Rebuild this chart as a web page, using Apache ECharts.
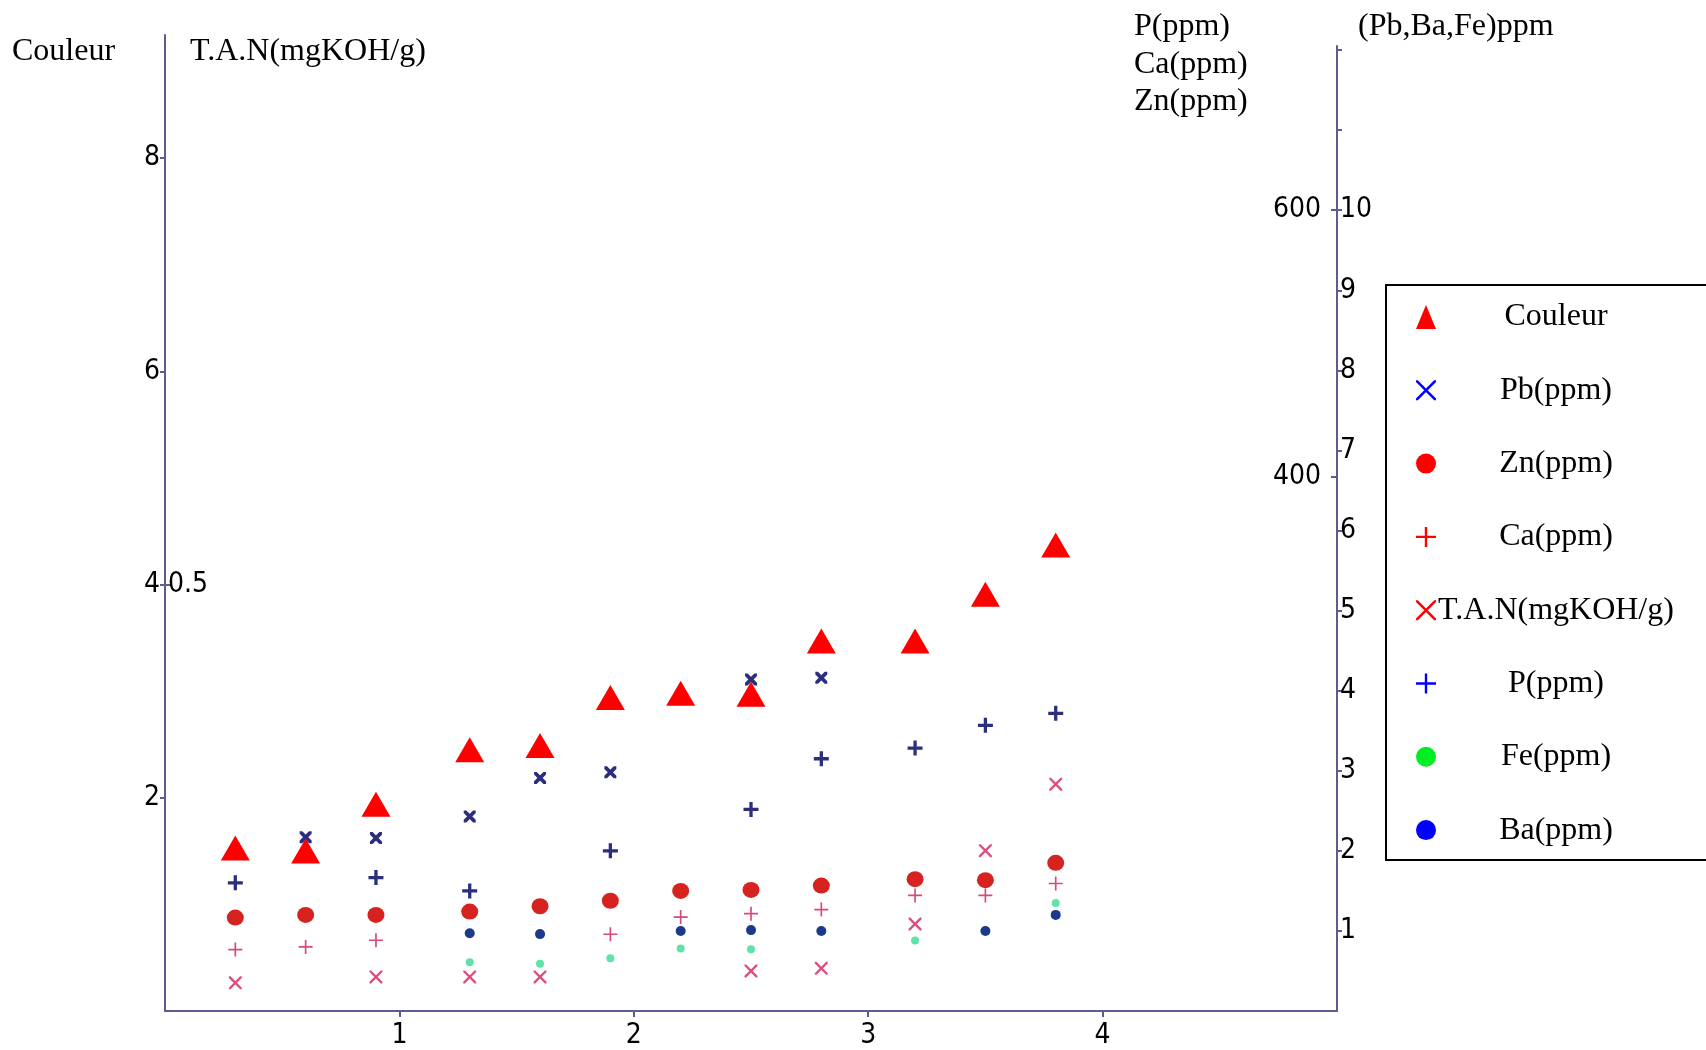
<!DOCTYPE html>
<html>
<head>
<meta charset="utf-8">
<title>Couleur, T.A.N et métaux</title>
<script src="https://cdn.jsdelivr.net/npm/echarts@6/dist/echarts.min.js"></script>
<style>
  html, body { margin: 0; padding: 0; background: #ffffff; }
  #chart { width: 1706px; height: 1050px; }
</style>
</head>
<body>
<div id="chart"></div>
<script>
// Sample positions along the horizontal axis
const xs = [0.3, 0.6, 0.9, 1.3, 1.6, 1.9, 2.2, 2.5, 2.8, 3.2, 3.5, 3.8];

// Couleur (left scale) and T.A.N in mgKOH/g (left inner scale)
const couleur = [1.53, 1.50, 1.94, 2.45, 2.49, 2.94, 2.98, 2.97, 3.47, 3.47, 3.91, 4.37];
const tan = [0.033, null, 0.040, 0.040, 0.040, null, null, 0.047, 0.050, 0.102, 0.188, 0.266];

// P, Ca, Zn in ppm (right inner scale, 400 / 600)
const pPpm = [96, null, 100, 90, null, 120, null, 151, 189, 197, 214, 223];
const caPpm = [46, 48, 53, null, null, 57.5, 70.4, 72.9, 76, 86.6, 86.6, 95.5];
const znPpm = [70, 72, 72, 74.5, 78.5, 82.6, 90, 90.7, 94, 98.8, 98, 111];

// Pb, Ba, Fe in ppm (right outer scale, 1..10)
const pbPpm = [null, 2.17, 2.16, 2.43, 2.91, 2.98, null, 4.14, 4.16, null, null, null];
const baPpm = [null, null, null, 0.97, 0.96, null, 1.0, 1.01, 1.0, null, 1.0, 1.2];
const fePpm = [null, null, null, 0.61, 0.59, 0.66, 0.78, 0.77, null, 0.88, null, 1.35];

// Tick labels
const xTicks = [1, 2, 3, 4];
const couleurTicks = [2, 4, 6, 8];
const tanTicks = [0.5];
const pTicks = [400, 600];
const pbLabelTicks = [1, 2, 3, 4, 5, 6, 7, 8, 9, 10];
const pbTickMarks = [1, 2, 3, 4, 5, 6, 7, 8, 9, 10, 11, 12];

function pts(vals) {
  return xs.map((x, i) => (vals[i] == null ? null : [x, vals[i]])).filter(Boolean);
}

const X_THICK = 'path://M0,0L2.2,0L10,7.8L10,10L7.8,10L0,2.2Z M7.8,0L10,0L10,2.2L2.2,10L0,10L0,7.8Z';
const X_THIN = 'path://M0,0L1.3,0L10,8.7L10,10L8.7,10L0,1.3Z M8.7,0L10,0L10,1.3L1.3,10L0,10L0,8.7Z';
const X_HAIR = 'path://M0,0L0.9,0L10,9.1L10,10L9.1,10L0,0.9Z M9.1,0L10,0L10,0.9L0.9,10L0,10L0,9.1Z';
const PLUS_THICK = 'path://M3.9,0H6.1V3.9H10V6.1H6.1V10H3.9V6.1H0V3.9H3.9Z';
const PLUS_THIN = 'path://M4.4,0H5.6V4.4H10V5.6H5.6V10H4.4V5.6H0V4.4H4.4Z';

const serif = "'Liberation Serif', 'Times New Roman', serif";
const narrow = "'Liberation Sans Narrow', 'DejaVu Sans Condensed', sans-serif";
const axisColor = '#5c5c90';

const headStyle = { fontFamily: serif, fontSize: 32, fontWeight: 'normal', color: '#000', lineHeight: 34 };
const tickLabel = { fontFamily: narrow, fontSize: 28, color: '#000' };

// Vertical scales: both panels share the bottom edge at y = 1011
const LEFT_MAX = 9.155;
const PB_MAX = 12.05;

const chart = echarts.init(document.getElementById('chart'), null, { renderer: 'canvas' });

chart.setOption({
  backgroundColor: '#ffffff',
  animation: false,
  title: [
    { text: 'Couleur', left: 12, top: 35, padding: 0, textStyle: headStyle },
    { text: 'T.A.N(mgKOH/g)', left: 190, top: 35, padding: 0, textStyle: headStyle },
    { text: 'P(ppm)\nCa(ppm)\nZn(ppm)', left: 1134, top: 8, padding: 0,
      textStyle: Object.assign({}, headStyle, { lineHeight: 37.5 }) },
    { text: '(Pb,Ba,Fe)ppm', left: 1358, top: 10, padding: 0, textStyle: headStyle }
  ],
  grid: [
    { left: 165, right: 369, top: 35, bottom: 39, containLabel: false },
    { left: 165, right: 369, top: 46, bottom: 39, containLabel: false }
  ],
  xAxis: [
    {
      type: 'value', gridIndex: 0, min: 0, max: 5, interval: 1,
      axisLine: { show: true, onZero: false, lineStyle: { color: axisColor, width: 2 } },
      axisTick: { show: true, length: 6, customValues: xTicks, lineStyle: { color: axisColor, width: 2 } },
      axisLabel: { customValues: xTicks, margin: 11, textStyle: tickLabel },
      splitLine: { show: false }
    },
    {
      type: 'value', gridIndex: 1, min: 0, max: 5, interval: 1, show: false,
      axisLine: { onZero: false },
      splitLine: { show: false }
    }
  ],
  yAxis: [
    { // Couleur
      type: 'value', gridIndex: 0, position: 'left', min: 0, max: LEFT_MAX,
      axisLine: { show: true, onZero: false, lineStyle: { color: axisColor, width: 2 } },
      axisTick: { show: true, length: 5, customValues: couleurTicks, lineStyle: { color: axisColor, width: 2 } },
      axisLabel: { customValues: couleurTicks, margin: 5, textStyle: tickLabel },
      splitLine: { show: false }
    },
    { // T.A.N
      type: 'value', gridIndex: 0, position: 'left', min: 0, max: LEFT_MAX / 8,
      axisLine: { show: false, onZero: false },
      axisTick: { show: true, inside: true, length: 5, customValues: tanTicks, lineStyle: { color: axisColor, width: 2 } },
      axisLabel: { inside: true, customValues: tanTicks, margin: 3, formatter: v => v.toFixed(1), textStyle: tickLabel },
      splitLine: { show: false }
    },
    { // Pb, Ba, Fe
      type: 'value', gridIndex: 1, position: 'right', min: 0, max: PB_MAX,
      axisLine: { show: true, onZero: false, lineStyle: { color: axisColor, width: 2 } },
      axisTick: { show: true, length: 5, customValues: pbTickMarks, lineStyle: { color: axisColor, width: 2 } },
      axisLabel: { customValues: pbLabelTicks, margin: 3, textStyle: tickLabel },
      splitLine: { show: false }
    },
    { // P, Ca, Zn
      type: 'value', gridIndex: 1, position: 'right', min: 0, max: PB_MAX * 60,
      axisLine: { show: false, onZero: false },
      axisTick: { show: true, inside: true, length: 6, customValues: pTicks, lineStyle: { color: axisColor, width: 2 } },
      axisLabel: { inside: true, customValues: pTicks, margin: 16, textStyle: tickLabel },
      splitLine: { show: false }
    }
  ],
  legend: {
    orient: 'vertical', left: 1386, top: 285,
    itemWidth: 20, itemHeight: 24, itemGap: 41.3,
    padding: [16, 60, 14, 30],
    borderColor: '#000', borderWidth: 2, backgroundColor: '#ffffff',
    selectedMode: false,
    formatter: n => '{c|' + n + '}',
    textStyle: {
      fontFamily: serif, fontSize: 32, color: '#000',
      rich: { c: { width: 230, align: 'center', fontFamily: serif, fontSize: 32, lineHeight: 34, color: '#000' } }
    },
    data: [
      { name: 'Couleur', icon: 'triangle', itemStyle: { color: '#ff0000' } },
      { name: 'Pb(ppm)', icon: X_HAIR, itemStyle: { color: '#0000ff' } },
      { name: 'Zn(ppm)', icon: 'circle', itemStyle: { color: '#ff0000' } },
      { name: 'Ca(ppm)', icon: PLUS_THIN, itemStyle: { color: '#ff0000' } },
      { name: 'T.A.N(mgKOH/g)', icon: X_HAIR, itemStyle: { color: '#ff0000' } },
      { name: 'P(ppm)', icon: PLUS_THIN, itemStyle: { color: '#0000ff' } },
      { name: 'Fe(ppm)', icon: 'circle', itemStyle: { color: '#00ee22' } },
      { name: 'Ba(ppm)', icon: 'circle', itemStyle: { color: '#0000ff' } }
    ]
  },
  series: [
    { name: 'Couleur', type: 'scatter', xAxisIndex: 0, yAxisIndex: 0, symbol: 'triangle', symbolSize: [29, 25],
      itemStyle: { color: '#ff0000', opacity: 1 }, data: pts(couleur), silent: true, z: 5 },
    { name: 'Pb(ppm)', type: 'scatter', xAxisIndex: 1, yAxisIndex: 2, symbol: X_THICK, symbolSize: 12,
      itemStyle: { color: '#2b2e7c', opacity: 1 }, data: pts(pbPpm), silent: true },
    { name: 'Zn(ppm)', type: 'scatter', xAxisIndex: 1, yAxisIndex: 3, symbol: 'circle', symbolSize: [17, 16],
      itemStyle: { color: '#d6231f', opacity: 1 }, data: pts(znPpm), silent: true },
    { name: 'Ca(ppm)', type: 'scatter', xAxisIndex: 1, yAxisIndex: 3, symbol: PLUS_THIN, symbolSize: 14,
      itemStyle: { color: '#d9487c', opacity: 1 }, data: pts(caPpm), silent: true },
    { name: 'T.A.N(mgKOH/g)', type: 'scatter', xAxisIndex: 0, yAxisIndex: 1, symbol: X_THIN, symbolSize: 13,
      itemStyle: { color: '#dc4f7c', opacity: 1 }, data: pts(tan), silent: true },
    { name: 'P(ppm)', type: 'scatter', xAxisIndex: 1, yAxisIndex: 3, symbol: PLUS_THICK, symbolSize: 15,
      itemStyle: { color: '#2a2f7e', opacity: 1 }, data: pts(pPpm), silent: true },
    { name: 'Fe(ppm)', type: 'scatter', xAxisIndex: 1, yAxisIndex: 2, symbol: 'circle', symbolSize: 8,
      itemStyle: { color: '#5fe3a8', opacity: 1 }, data: pts(fePpm), silent: true },
    { name: 'Ba(ppm)', type: 'scatter', xAxisIndex: 1, yAxisIndex: 2, symbol: 'circle', symbolSize: 10,
      itemStyle: { color: '#1c3a8c', opacity: 1 }, data: pts(baPpm), silent: true }
  ]
});
</script>
</body>
</html>
